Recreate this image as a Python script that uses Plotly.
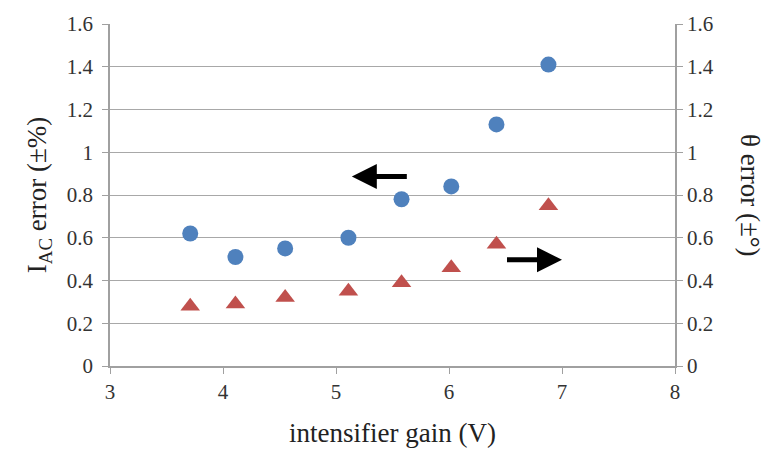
import plotly.graph_objects as go

gain = [3.71, 4.11, 4.55, 5.11, 5.58, 6.02, 6.42, 6.88]
iac_err = [0.62, 0.51, 0.55, 0.60, 0.78, 0.84, 1.13, 1.41]
theta_err = [0.28, 0.29, 0.32, 0.35, 0.39, 0.46, 0.57, 0.75]
yticks = [0, 0.2, 0.4, 0.6, 0.8, 1.0, 1.2, 1.4, 1.6]
ytick_text = ["0", "0.2", "0.4", "0.6", "0.8", "1", "1.2", "1.4", "1.6"]
xticks = [3, 4, 5, 6, 7, 8]
xtick_text = ["3", "4", "5", "6", "7", "8"]

font = "Liberation Serif"
tickfont = dict(family=font, size=21, color="#333")
titlefont = dict(family=font, size=27, color="#222")
fig = go.Figure()
fig.add_trace(go.Scatter(x=gain, y=iac_err, mode="markers", yaxis="y",
                         marker=dict(symbol="circle", size=16, color="#4F81BD"),
                         showlegend=False))
fig.add_trace(go.Scatter(x=gain, y=theta_err, mode="markers", yaxis="y2",
                         marker=dict(symbol="triangle-up", size=17, color="#C0504D"),
                         showlegend=False))

axcol = "#A0A0A0"
fig.update_layout(
    width=773, height=456,
    margin=dict(l=110, r=98, t=18, b=90),
    plot_bgcolor="white", paper_bgcolor="white",
    font=dict(family=font, size=21, color="#222"),
)
fig.update_xaxes(range=[3, 8], tickmode="array", tickvals=xticks, ticktext=xtick_text,
                 showgrid=False, showline=True, linecolor=axcol, linewidth=1.5,
                 ticks="outside", tickcolor=axcol, ticklen=6, zeroline=False,
                 tickfont_family=font, tickfont_size=21, tickfont_color="#333",
                 title=dict(text="intensifier gain (V)", font=titlefont, standoff=20))
fig.update_layout(
    yaxis=dict(range=[0, 1.6], tickmode="array", tickvals=yticks, ticktext=ytick_text,
               showgrid=True, gridcolor="#A8A8A8", gridwidth=1.2, showline=True,
               linecolor=axcol, linewidth=1.5, ticks="outside", tickcolor=axcol,
               ticklen=6, zeroline=False, tickfont=tickfont, ticklabelstandoff=5,
               title=dict(text="I<sub>AC</sub> error (±%)", font=titlefont, standoff=12)),
    yaxis2=dict(range=[0, 1.6], tickmode="array", tickvals=yticks, ticktext=ytick_text,
                overlaying="y", side="right", showgrid=False, showline=True,
                linecolor=axcol, linewidth=1.5, ticks="outside", tickcolor=axcol,
                ticklen=6, zeroline=False, tickfont=tickfont),
)
fig.add_annotation(x=1.0, xref="paper", xshift=92, y=0.5, yref="paper",
                   text="θ error (±°)", textangle=90, showarrow=False,
                   font=titlefont)
# arrows
fig.add_annotation(x=5.14, y=0.887, ax=5.64, ay=0.887, xref="x", yref="y",
                   axref="x", ayref="y", text="", showarrow=True,
                   arrowhead=2, arrowsize=1.0, arrowwidth=5, arrowcolor="black")
fig.add_annotation(x=7.0, y=0.497, ax=6.5, ay=0.497, xref="x", yref="y",
                   axref="x", ayref="y", text="", showarrow=True,
                   arrowhead=2, arrowsize=1.0, arrowwidth=5, arrowcolor="black")
fig.write_html("out.html")
